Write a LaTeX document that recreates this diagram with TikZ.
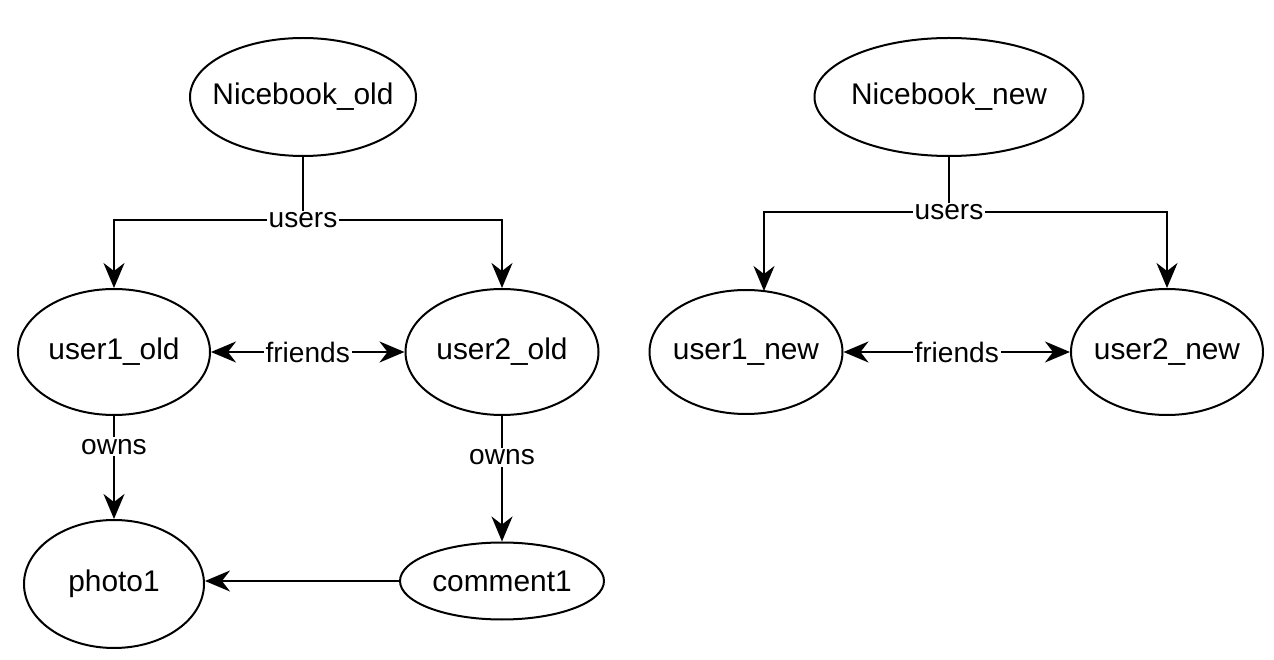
\documentclass[tikz,border=0pt]{standalone}
\usepackage{fontspec}
\setmainfont{Liberation Sans}
\usetikzlibrary{shapes.geometric,arrows.meta}

\begin{document}
\begin{tikzpicture}[%%
  entityStyle/.style={ellipse,draw,line width=0.4mm,inner sep=0pt,font=\fontsize{17}{20}\selectfont},%%
  labelStyle/.style={fill=white,inner sep=1pt,font=\fontsize{16}{19}\selectfont},%%
  lineStyle/.style={-,line width=0.4mm},%%
  arrowStyle/.style={-{Stealth[length=5mm,width=4.2mm,inset=1.6mm]},line width=0.4mm},%%
  twoWayStyle/.style={{Stealth[length=5mm,width=4.2mm,inset=1.6mm]}-{Stealth[length=5mm,width=4.2mm,inset=1.6mm]},line width=0.4mm}%%
]
%%
%%
\pgfmathsetmacro{\width}{25.48}
\pgfmathsetmacro{\height}{13.2}
\pgfmathsetmacro{\yTop}{-1.94}
\pgfmathsetmacro{\yMid}{-7.04}
%%
\useasboundingbox (0,0) rectangle (\width,-\height);
%%
%% The old graph.
\node[entityStyle,minimum width=4.52cm,minimum height=2.36cm] (nicebookOld) at (6.06,\yTop) {\makebox[0pt]{Nicebook\_old}};
\node[entityStyle,minimum width=3.84cm,minimum height=2.52cm] (user1Old) at (2.28,\yMid) {\makebox[0pt]{user1\_old}};
\node[entityStyle,minimum width=3.86cm,minimum height=2.52cm] (user2Old) at (10.04,\yMid) {\makebox[0pt]{user2\_old}};
\node[entityStyle,minimum width=3.60cm,minimum height=2.56cm] (photo1) at (2.28,-11.68) {\makebox[0pt]{photo1}};
\node[entityStyle,minimum width=4.08cm,minimum height=1.54cm] (comment1) at (10.04,-11.62) {\makebox[0pt]{comment1}};
%%
%% The new graph.
\node[entityStyle,minimum width=5.38cm,minimum height=2.36cm] (nicebookNew) at (18.98,\yTop) {\makebox[0pt]{Nicebook\_new}};
\node[entityStyle,minimum width=3.86cm,minimum height=2.48cm] (user1New) at (14.92,\yMid) {\makebox[0pt]{user1\_new}};
\node[entityStyle,minimum width=3.84cm,minimum height=2.52cm] (user2New) at (23.34,\yMid) {\makebox[0pt]{user2\_new}};
%%
%% Users of the old graph.
\coordinate (usersOld) at (6.06,-4.40);
\draw[lineStyle] (nicebookOld.south) -- (usersOld);
\draw[arrowStyle] (usersOld) -| (user1Old.north);
\draw[arrowStyle] (usersOld) -| (user2Old.north);
\node[labelStyle] (usersOldLabel) at (usersOld) {users};
%% Users of the new graph.
\coordinate (usersNew) at (18.98,-4.24);
\draw[lineStyle] (nicebookNew.south) -- (usersNew);
\draw[arrowStyle] (usersNew) -| ([xshift=0.36cm,yshift=-0.04cm]user1New.north);
\draw[arrowStyle] (usersNew) -| (user2New.north);
\node[labelStyle] (usersNewLabel) at (usersNew) {users};
%%
%% Friends.
\draw[twoWayStyle] (user1Old) -- node[labelStyle] {friends} (user2Old);
\draw[twoWayStyle] (user1New) -- node[labelStyle] {friends} (user2New);
%%
%% Ownership.
\draw[arrowStyle] (user1Old) -- node[labelStyle,pos=0.3] {owns} (photo1);
\draw[arrowStyle] (user2Old) -- node[labelStyle,pos=0.33] {owns} (comment1);
\draw[arrowStyle] (comment1.west) -- (photo1.east |- comment1.west);
\end{tikzpicture}
\end{document}
